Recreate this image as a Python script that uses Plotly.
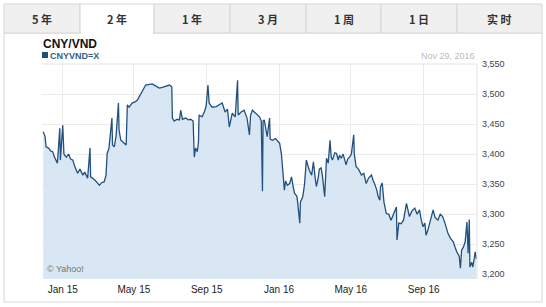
import plotly.graph_objects as go

dates = [
 "2014-11-29","2014-12-02","2014-12-04","2014-12-08","2014-12-12","2014-12-15","2014-12-18","2014-12-23","2014-12-27","2014-12-28",
 "2015-01-01","2015-01-03","2015-01-07","2015-01-11","2015-01-14","2015-01-18","2015-01-21","2015-01-26","2015-01-30","2015-02-04",
 "2015-02-07","2015-02-12","2015-02-16","2015-02-17","2015-02-20","2015-02-25","2015-03-04","2015-03-07","2015-03-12","2015-03-15",
 "2015-03-17","2015-03-20","2015-03-25","2015-03-26","2015-03-29","2015-04-01","2015-04-05","2015-04-06","2015-04-09","2015-04-13",
 "2015-04-18","2015-04-20","2015-04-23","2015-04-28","2015-05-03","2015-05-07","2015-05-12","2015-05-17","2015-05-21","2015-05-27",
 "2015-06-01","2015-06-06","2015-06-13","2015-06-18","2015-06-23","2015-06-30","2015-07-04","2015-07-05","2015-07-08","2015-07-13",
 "2015-07-17","2015-07-19","2015-07-22","2015-07-27","2015-08-01","2015-08-05","2015-08-09","2015-08-11","2015-08-13","2015-08-16",
 "2015-08-18","2015-08-19","2015-08-24","2015-08-28","2015-08-31","2015-09-03","2015-09-05","2015-09-10","2015-09-17","2015-09-22",
 "2015-09-27","2015-10-02","2015-10-06","2015-10-09","2015-10-14","2015-10-19","2015-10-23","2015-10-24","2015-10-29","2015-11-03",
 "2015-11-08","2015-11-12","2015-11-14","2015-11-17","2015-11-22","2015-11-25","2015-11-29","2015-12-02","2015-12-04","2015-12-05",
 "2015-12-07","2015-12-12","2015-12-16","2015-12-17","2015-12-21","2015-12-26","2016-01-01","2016-01-02","2016-01-05","2016-01-07",
 "2016-01-10","2016-01-12","2016-01-15","2016-01-19","2016-01-22","2016-01-25","2016-01-27","2016-01-31","2016-02-01","2016-02-05",
 "2016-02-06","2016-02-10","2016-02-13","2016-02-16","2016-02-19","2016-02-21","2016-02-25","2016-02-28","2016-03-02","2016-03-04",
 "2016-03-07","2016-03-09","2016-03-12","2016-03-14","2016-03-18","2016-03-21","2016-03-24","2016-03-27","2016-03-29","2016-03-31",
 "2016-04-04","2016-04-07","2016-04-10","2016-04-12","2016-04-15","2016-04-18","2016-04-21","2016-04-23","2016-04-26","2016-04-29",
 "2016-05-02","2016-05-06","2016-05-07","2016-05-10","2016-05-14","2016-05-19","2016-05-23","2016-05-27","2016-05-31","2016-06-05",
 "2016-06-08","2016-06-10","2016-06-14","2016-06-16","2016-06-19","2016-06-20","2016-06-23","2016-06-26","2016-06-30","2016-07-04",
 "2016-07-08","2016-07-12","2016-07-17","2016-07-18","2016-07-21","2016-07-25","2016-07-29","2016-08-03","2016-08-06","2016-08-08",
 "2016-08-12","2016-08-17","2016-08-21","2016-08-25","2016-08-28","2016-08-31","2016-09-03","2016-09-05","2016-09-08","2016-09-12",
 "2016-09-17","2016-09-20","2016-09-25","2016-09-29","2016-10-03","2016-10-07","2016-10-12","2016-10-16","2016-10-21","2016-10-24",
 "2016-10-27","2016-10-31","2016-11-02","2016-11-04","2016-11-07","2016-11-10","2016-11-13","2016-11-15","2016-11-17","2016-11-18",
 "2016-11-21","2016-11-23","2016-11-27","2016-11-29",
]
rates = [
 3437,3430,3412,3410,3405,3404,3395,3385,3443,3390,
 3448,3400,3395,3400,3392,3390,3380,3368,3375,3365,
 3370,3360,3410,3362,3360,3356,3348,3352,3354,3365,
 3401,3410,3460,3415,3412,3430,3485,3440,3423,3420,
 3415,3482,3478,3485,3487,3490,3498,3508,3515,3516,
 3517,3514,3510,3511,3513,3515,3512,3460,3455,3458,
 3457,3473,3458,3460,3457,3458,3455,3395,3410,3404,
 3420,3465,3462,3470,3480,3515,3485,3478,3479,3482,
 3485,3470,3475,3445,3468,3462,3523,3465,3470,3473,
 3460,3432,3465,3473,3468,3465,3462,3455,3338,3455,
 3457,3429,3460,3425,3423,3426,3420,3418,3400,3379,
 3340,3355,3348,3351,3362,3345,3335,3330,3323,3285,
 3320,3329,3350,3390,3380,3373,3365,3387,3360,3346,
 3360,3375,3377,3365,3329,3393,3385,3423,3395,3390,
 3402,3401,3390,3398,3393,3400,3390,3382,3392,3395,
 3400,3432,3400,3379,3375,3365,3368,3351,3360,3365,
 3355,3351,3340,3330,3323,3345,3352,3320,3301,3300,
 3290,3300,3312,3257,3285,3284,3290,3318,3305,3296,
 3305,3310,3300,3307,3290,3279,3285,3265,3273,3290,
 3307,3295,3290,3300,3296,3285,3268,3260,3254,3245,
 3237,3230,3210,3240,3245,3254,3287,3235,3291,3212,
 3220,3212,3237,3225,
]
tick_dates = ["2015-01-01","2015-05-01","2015-09-01","2016-01-01","2016-05-01","2016-09-01"]
tick_text = ["Jan 15","May 15","Sep 15","Jan 16","May 16","Sep 16"]
y_ticks = [3200,3250,3300,3350,3400,3450,3500,3550]
tabs = ["5 年","2 年","1 年","3 月","1 周","1 日","实 时"]

W, H = 546, 307
L, R, T, B = 42, 477, 64, 279

def fx(px):
    return (px - L) / (R - L)

def fy(py):
    return (B - py) / (B - T)

fig = go.Figure()
fig.add_trace(go.Scatter(
    x=dates, y=rates, mode="lines",
    line=dict(color="#22507f", width=1.3),
    fill="tozeroy", fillcolor="#d8e7f3",
    showlegend=False, hoverinfo="skip",
))

shapes = []
shapes.append(dict(type="rect", xref="paper", yref="paper",
                   x0=fx(4), x1=fx(542), y0=fy(302), y1=fy(33),
                   line=dict(color="#d6d6d6", width=1), fillcolor="rgba(0,0,0,0)", layer="below"))
edges = [4, 80, 154, 230, 306, 381, 457, 542]
for i, name in enumerate(tabs):
    x0, x1 = edges[i], edges[i + 1]
    sel = (i == 1)
    shapes.append(dict(type="rect", xref="paper", yref="paper",
                       x0=fx(x0), x1=fx(x1), y0=fy(33), y1=fy(4),
                       line=dict(color="#d6d6d6", width=1),
                       fillcolor="#ffffff" if sel else "#f0f0f0", layer="below"))
    if sel:
        shapes.append(dict(type="line", xref="paper", yref="paper",
                           x0=fx(x0 + 1), x1=fx(x1 - 1), y0=fy(33), y1=fy(33),
                           line=dict(color="#ffffff", width=2)))
shapes.append(dict(type="rect", xref="paper", yref="paper",
                   x0=fx(42), x1=fx(48), y0=fy(58), y1=fy(52),
                   line=dict(width=0), fillcolor="#1e4f7a"))
shapes.append(dict(type="line", xref="paper", yref="paper",
                   x0=0, x1=1, y0=1, y1=1, line=dict(color="#e4e4e4", width=1)))
shapes.append(dict(type="line", xref="paper", yref="paper",
                   x0=1, x1=1, y0=0, y1=1, line=dict(color="#e4e4e4", width=1)))

annotations = []
for i, name in enumerate(tabs):
    cx = (edges[i] + edges[i + 1]) / 2
    annotations.append(dict(x=fx(cx), y=fy(18.5), xref="paper", yref="paper",
                            text="<b>%s</b>" % name, showarrow=False,
                            xanchor="center", yanchor="middle",
                            font=dict(family="Noto Sans CJK SC", size=11, color="#333333")))
annotations.append(dict(x=fx(41), y=fy(44), xref="paper", yref="paper",
                        text="<b>CNY/VND</b>", showarrow=False, xanchor="left", yanchor="middle",
                        font=dict(family="Arial, Liberation Sans", size=12, color="#111111")))
annotations.append(dict(x=fx(48), y=fy(55.5), xref="paper", yref="paper",
                        text="<b>CNYVND=X</b>", showarrow=False, xanchor="left", yanchor="middle",
                        font=dict(family="Arial, Liberation Sans", size=9, color="#2f5f8c")))
annotations.append(dict(x=fx(477), y=fy(56), xref="paper", yref="paper",
                        text="Nov 29, 2016", showarrow=False, xanchor="right", yanchor="middle",
                        font=dict(family="Arial, Liberation Sans", size=9, color="#bbbbbb")))
annotations.append(dict(x=fx(45), y=fy(269), xref="paper", yref="paper",
                        text="© Yahoo!", showarrow=False, xanchor="left", yanchor="middle",
                        font=dict(family="Arial, Liberation Sans", size=9, color="#777777")))

fig.update_layout(
    width=W, height=H,
    margin=dict(l=L, r=W - R, t=T, b=H - B),
    paper_bgcolor="white", plot_bgcolor="white",
    shapes=shapes, annotations=annotations,
    xaxis=dict(range=["2014-11-27", "2016-11-30"], tickvals=tick_dates, ticktext=tick_text,
               showgrid=True, gridcolor="#ebebeb", gridwidth=1, zeroline=False,
               ticks="", showline=False, ticklabelstandoff=3,
               tickfont=dict(family="Arial, Liberation Sans", size=10, color="#222222")),
    yaxis=dict(range=[3192, 3550], side="right", tickvals=y_ticks, tickformat=",",
               showgrid=True, gridcolor="#ebebeb", gridwidth=1, zeroline=False,
               ticks="", showline=False, ticklabelstandoff=4,
               tickfont=dict(family="Arial, Liberation Sans", size=9, color="#444444")),
)

fig.write_html("out.html")
